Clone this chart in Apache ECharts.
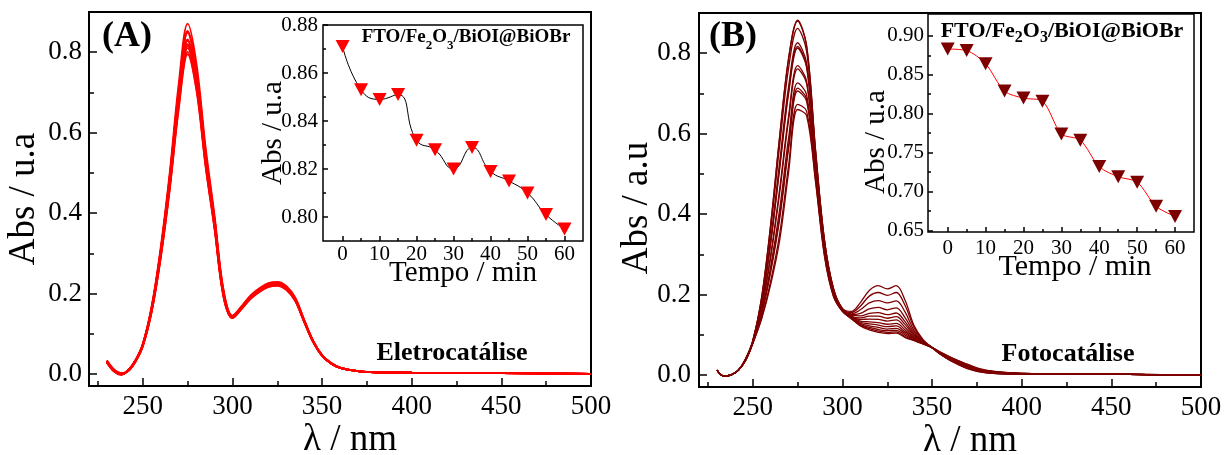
<!DOCTYPE html>
<html>
<head>
<meta charset="utf-8">
<script src="https://cdn.jsdelivr.net/npm/echarts@6.0.0/dist/echarts.min.js"></script>
<style>
html, body { margin: 0; padding: 0; background: #fff; }
#chart { width: 1225px; height: 455px; }
</style>
</head>
<body>
<div id="chart"></div>
<script>
// comprimentos de onda (nm) usados para todas as curvas
const wavelengths = [230, 234, 238, 242, 246, 250, 255, 260, 265, 270, 275, 280, 285, 290, 295, 300, 305, 310, 315, 320, 325, 330, 335, 340, 345, 350, 355, 360, 370, 380, 400, 450, 500];
const timesMin = [0, 5, 10, 15, 20, 25, 30, 35, 40, 45, 50, 55, 60];

// (A) Eletrocatálise - uma curva por tempo
const spectraA = [
    [0.028, 0.006, -0.002, 0.010, 0.035, 0.075, 0.170, 0.315, 0.500, 0.720, 0.871, 0.770, 0.565, 0.395, 0.210, 0.145, 0.168, 0.195, 0.213, 0.226, 0.229, 0.219, 0.190, 0.135, 0.083, 0.047, 0.027, 0.016, 0.007, 0.004, 0.003, 0.002, 0.000],
    [0.028, 0.006, -0.002, 0.010, 0.035, 0.074, 0.167, 0.308, 0.490, 0.705, 0.853, 0.754, 0.553, 0.387, 0.206, 0.144, 0.166, 0.193, 0.211, 0.224, 0.227, 0.217, 0.188, 0.134, 0.082, 0.047, 0.027, 0.016, 0.007, 0.004, 0.003, 0.002, 0.000],
    [0.029, 0.007, -0.001, 0.010, 0.034, 0.073, 0.166, 0.307, 0.488, 0.702, 0.849, 0.751, 0.551, 0.385, 0.205, 0.143, 0.166, 0.192, 0.210, 0.223, 0.226, 0.216, 0.188, 0.133, 0.082, 0.046, 0.027, 0.016, 0.007, 0.004, 0.003, 0.002, 0.000],
    [0.029, 0.007, -0.001, 0.010, 0.034, 0.073, 0.166, 0.308, 0.489, 0.703, 0.851, 0.752, 0.552, 0.386, 0.205, 0.143, 0.166, 0.193, 0.210, 0.223, 0.226, 0.216, 0.188, 0.133, 0.082, 0.046, 0.027, 0.016, 0.007, 0.004, 0.003, 0.002, 0.000],
    [0.030, 0.007, -0.001, 0.009, 0.034, 0.072, 0.162, 0.301, 0.478, 0.688, 0.832, 0.735, 0.540, 0.377, 0.201, 0.142, 0.164, 0.191, 0.208, 0.221, 0.224, 0.214, 0.186, 0.132, 0.081, 0.046, 0.027, 0.016, 0.007, 0.004, 0.003, 0.002, 0.000],
    [0.030, 0.008, 0.000, 0.009, 0.033, 0.071, 0.162, 0.300, 0.476, 0.685, 0.828, 0.732, 0.537, 0.376, 0.200, 0.141, 0.164, 0.190, 0.208, 0.220, 0.223, 0.214, 0.185, 0.132, 0.081, 0.046, 0.026, 0.015, 0.007, 0.004, 0.003, 0.002, 0.000],
    [0.031, 0.008, 0.000, 0.009, 0.033, 0.071, 0.160, 0.296, 0.471, 0.678, 0.820, 0.725, 0.532, 0.372, 0.198, 0.141, 0.163, 0.189, 0.207, 0.219, 0.222, 0.213, 0.184, 0.131, 0.081, 0.046, 0.026, 0.015, 0.007, 0.004, 0.003, 0.002, 0.000],
    [0.031, 0.008, 0.000, 0.009, 0.033, 0.071, 0.162, 0.300, 0.476, 0.685, 0.829, 0.733, 0.538, 0.376, 0.200, 0.142, 0.164, 0.190, 0.208, 0.221, 0.224, 0.214, 0.185, 0.132, 0.081, 0.046, 0.026, 0.015, 0.007, 0.004, 0.003, 0.002, 0.000],
    [0.032, 0.009, 0.001, 0.009, 0.033, 0.070, 0.160, 0.296, 0.470, 0.677, 0.819, 0.724, 0.531, 0.371, 0.197, 0.141, 0.163, 0.189, 0.207, 0.219, 0.222, 0.212, 0.184, 0.131, 0.081, 0.046, 0.026, 0.015, 0.007, 0.004, 0.003, 0.002, 0.000],
    [0.032, 0.009, 0.001, 0.008, 0.032, 0.070, 0.159, 0.295, 0.468, 0.674, 0.815, 0.721, 0.529, 0.370, 0.197, 0.140, 0.163, 0.189, 0.206, 0.219, 0.222, 0.212, 0.184, 0.131, 0.080, 0.045, 0.026, 0.015, 0.007, 0.004, 0.003, 0.002, 0.000],
    [0.033, 0.010, 0.001, 0.008, 0.032, 0.070, 0.158, 0.293, 0.465, 0.670, 0.810, 0.716, 0.525, 0.367, 0.195, 0.140, 0.162, 0.188, 0.206, 0.218, 0.221, 0.211, 0.183, 0.130, 0.080, 0.045, 0.026, 0.015, 0.007, 0.004, 0.003, 0.002, 0.000],
    [0.033, 0.010, 0.002, 0.008, 0.031, 0.069, 0.156, 0.290, 0.460, 0.662, 0.801, 0.708, 0.520, 0.363, 0.193, 0.139, 0.161, 0.187, 0.204, 0.217, 0.220, 0.210, 0.182, 0.130, 0.080, 0.045, 0.026, 0.015, 0.007, 0.004, 0.003, 0.002, 0.000],
    [0.034, 0.011, 0.002, 0.008, 0.031, 0.068, 0.155, 0.288, 0.457, 0.657, 0.795, 0.703, 0.516, 0.361, 0.192, 0.139, 0.161, 0.186, 0.204, 0.216, 0.219, 0.209, 0.182, 0.129, 0.079, 0.045, 0.026, 0.015, 0.007, 0.004, 0.003, 0.002, 0.000]
];

// (B) Fotocatálise
const spectraB = [
    [0.012, -0.003, 0.000, 0.012, 0.040, 0.085, 0.195, 0.375, 0.594, 0.789, 0.882, 0.820, 0.560, 0.335, 0.215, 0.165, 0.158, 0.180, 0.210, 0.222, 0.214, 0.222, 0.185, 0.122, 0.088, 0.068, 0.050, 0.036, 0.015, 0.005, 0.002, 0.002, -0.001],
    [0.012, -0.003, 0.000, 0.012, 0.040, 0.085, 0.195, 0.374, 0.592, 0.786, 0.880, 0.818, 0.559, 0.335, 0.215, 0.165, 0.155, 0.171, 0.196, 0.205, 0.198, 0.205, 0.172, 0.117, 0.086, 0.068, 0.050, 0.037, 0.016, 0.006, 0.002, 0.002, -0.001],
    [0.012, -0.003, 0.000, 0.012, 0.039, 0.084, 0.190, 0.362, 0.571, 0.764, 0.862, 0.805, 0.553, 0.332, 0.213, 0.164, 0.152, 0.162, 0.179, 0.185, 0.179, 0.184, 0.156, 0.110, 0.085, 0.068, 0.051, 0.037, 0.017, 0.006, 0.002, 0.002, -0.001],
    [0.012, -0.003, 0.000, 0.012, 0.039, 0.083, 0.181, 0.337, 0.529, 0.718, 0.826, 0.776, 0.540, 0.325, 0.210, 0.163, 0.150, 0.153, 0.164, 0.168, 0.162, 0.167, 0.142, 0.105, 0.083, 0.068, 0.051, 0.038, 0.018, 0.007, 0.003, 0.002, -0.001],
    [0.012, -0.003, 0.000, 0.012, 0.038, 0.083, 0.179, 0.331, 0.518, 0.706, 0.817, 0.769, 0.537, 0.323, 0.209, 0.163, 0.148, 0.147, 0.153, 0.155, 0.150, 0.154, 0.132, 0.101, 0.082, 0.068, 0.052, 0.039, 0.019, 0.007, 0.003, 0.002, -0.001],
    [0.012, -0.003, 0.000, 0.012, 0.038, 0.083, 0.178, 0.328, 0.513, 0.700, 0.813, 0.765, 0.535, 0.323, 0.209, 0.163, 0.146, 0.142, 0.146, 0.146, 0.141, 0.145, 0.125, 0.098, 0.081, 0.068, 0.052, 0.040, 0.020, 0.008, 0.003, 0.002, -0.001],
    [0.012, -0.003, 0.000, 0.012, 0.038, 0.081, 0.167, 0.299, 0.463, 0.645, 0.769, 0.731, 0.519, 0.315, 0.205, 0.161, 0.145, 0.138, 0.139, 0.138, 0.134, 0.137, 0.118, 0.095, 0.080, 0.068, 0.053, 0.040, 0.020, 0.008, 0.003, 0.002, -0.001],
    [0.012, -0.003, 0.000, 0.012, 0.037, 0.081, 0.165, 0.293, 0.453, 0.635, 0.761, 0.725, 0.517, 0.313, 0.204, 0.161, 0.144, 0.134, 0.132, 0.130, 0.126, 0.128, 0.112, 0.093, 0.079, 0.068, 0.053, 0.041, 0.021, 0.009, 0.003, 0.002, -0.001],
    [0.012, -0.003, 0.000, 0.012, 0.037, 0.080, 0.156, 0.270, 0.412, 0.590, 0.726, 0.697, 0.504, 0.307, 0.201, 0.160, 0.143, 0.131, 0.127, 0.124, 0.120, 0.122, 0.107, 0.091, 0.079, 0.068, 0.054, 0.042, 0.022, 0.009, 0.003, 0.002, -0.001],
    [0.012, -0.003, 0.000, 0.012, 0.037, 0.080, 0.153, 0.261, 0.396, 0.572, 0.713, 0.687, 0.499, 0.305, 0.200, 0.160, 0.142, 0.128, 0.122, 0.118, 0.114, 0.116, 0.103, 0.089, 0.078, 0.068, 0.054, 0.043, 0.023, 0.010, 0.004, 0.002, -0.001],
    [0.012, -0.003, 0.000, 0.012, 0.036, 0.079, 0.151, 0.256, 0.388, 0.563, 0.706, 0.681, 0.496, 0.303, 0.199, 0.159, 0.141, 0.125, 0.118, 0.113, 0.110, 0.111, 0.099, 0.087, 0.078, 0.068, 0.055, 0.043, 0.024, 0.010, 0.004, 0.002, -0.001],
    [0.012, -0.003, 0.000, 0.012, 0.036, 0.078, 0.143, 0.234, 0.351, 0.522, 0.673, 0.656, 0.485, 0.297, 0.196, 0.158, 0.140, 0.124, 0.115, 0.109, 0.106, 0.107, 0.095, 0.086, 0.077, 0.068, 0.055, 0.044, 0.025, 0.011, 0.004, 0.002, -0.001],
    [0.012, -0.003, 0.000, 0.012, 0.036, 0.078, 0.140, 0.225, 0.335, 0.505, 0.660, 0.645, 0.480, 0.295, 0.195, 0.158, 0.140, 0.122, 0.112, 0.106, 0.103, 0.104, 0.093, 0.085, 0.077, 0.068, 0.056, 0.045, 0.026, 0.012, 0.004, 0.002, -0.001]
];

// absorbância no máximo (~275 nm) vs tempo - insets
const peakA = [0.871, 0.853, 0.849, 0.851, 0.832, 0.828, 0.820, 0.829, 0.819, 0.815, 0.810, 0.801, 0.795];
const peakB = [0.883, 0.881, 0.864, 0.829, 0.820, 0.816, 0.774, 0.766, 0.732, 0.719, 0.712, 0.681, 0.668];

// ticks
const xTicksMain = [250, 300, 350, 400, 450, 500];
const xMinorMain = [225, 275, 325, 375, 425, 475];
const yTicksMain = [0, 0.2, 0.4, 0.6, 0.8];
const yMinorMain = [0.1, 0.3, 0.5, 0.7];
const xTicksInset = [0, 10, 20, 30, 40, 50, 60];
const xMinorInset = [5, 15, 25, 35, 45, 55];
const yTicksInsetA = [0.80, 0.82, 0.84, 0.86, 0.88];
const yMinorInsetA = [0.81, 0.83, 0.85, 0.87];
const yTicksInsetB = [0.65, 0.70, 0.75, 0.80, 0.85, 0.90];
const yMinorInsetB = [0.675, 0.725, 0.775, 0.825, 0.875];

const serif = 'Liberation Serif';

// eixo principal + eixo só com ticks menores no mesmo grid
function axisPair(grid, pos, min, max, major, minor, c) {
    return [
        {
            type: 'value', gridIndex: grid, position: pos, min: min, max: max,
            name: c.name, nameLocation: 'middle', nameGap: c.nameGap, nameMoveOverlap: false,
            nameTextStyle: { fontFamily: serif, fontSize: c.nameSize, color: '#000', padding: c.namePad || 0 },
            axisLine: { show: false, onZero: false },
            axisTick: { show: true, inside: true, length: c.tick, customValues: major, lineStyle: { color: '#000', width: 1.5 } },
            axisLabel: {
                show: true, customValues: major, margin: c.margin, color: '#000',
                fontFamily: serif, fontSize: c.labelSize,
                formatter: v => v.toFixed(c.dec)
            },
            splitLine: { show: false }
        },
        {
            type: 'value', gridIndex: grid, position: pos, min: min, max: max,
            axisLine: { show: false, onZero: false },
            axisTick: { show: true, inside: true, length: c.minorTick, customValues: minor, lineStyle: { color: '#000', width: 1.5 } },
            axisLabel: { show: false },
            splitLine: { show: false }
        }
    ];
}

const xAxes = [].concat(
    axisPair(0, 'bottom', 220, 500, xTicksMain, xMinorMain, { name: 'λ / nm', nameGap: 36, nameSize: 37, namePad: [0, 0, 0, 20], tick: 8, minorTick: 5, margin: 7, labelSize: 27, dec: 0 }),
    axisPair(1, 'bottom', -5.3, 65, xTicksInset, xMinorInset, { name: 'Tempo / min', nameGap: 18, nameSize: 29, namePad: [0, 0, 0, 20], tick: 5, minorTick: 3, margin: 3, labelSize: 21, dec: 0 }),
    axisPair(2, 'bottom', 220, 500, xTicksMain, xMinorMain, { name: 'λ / nm', nameGap: 36, nameSize: 37, namePad: [0, 0, 0, 40], tick: 8, minorTick: 5, margin: 7, labelSize: 27, dec: 0 }),
    axisPair(3, 'bottom', -5.2, 65, xTicksInset, xMinorInset, { name: 'Tempo / min', nameGap: 20, nameSize: 30, namePad: [0, 0, 0, 28], tick: 5, minorTick: 3, margin: 6, labelSize: 21, dec: 0 })
);
const yAxes = [].concat(
    axisPair(0, 'left', -0.03, 0.9, yTicksMain, yMinorMain, { name: 'Abs / u.a', nameGap: 46, nameSize: 37, tick: 8, minorTick: 5, margin: 7, labelSize: 27, dec: 1 }),
    axisPair(1, 'left', 0.79, 0.88, yTicksInsetA, yMinorInsetA, { name: 'Abs / u.a', nameGap: 35, nameSize: 29, tick: 5, minorTick: 3, margin: 5, labelSize: 21, dec: 2 }),
    axisPair(2, 'left', -0.03, 0.9, yTicksMain, yMinorMain, { name: 'Abs / a.u', nameGap: 43, nameSize: 37, namePad: [0, 16, 0, 0], tick: 8, minorTick: 5, margin: 8, labelSize: 27, dec: 1 }),
    axisPair(3, 'left', 0.648, 0.928, yTicksInsetB, yMinorInsetB, { name: 'Abs / u.a', nameGap: 37, nameSize: 29, namePad: [0, 38, 0, 0], tick: 5, minorTick: 3, margin: 4, labelSize: 21, dec: 2 })
);

function spectraSeries(spectra, color, width, axisIndex) {
    return spectra.map((vals, k) => ({
        name: timesMin[k] + ' min',
        type: 'line',
        xAxisIndex: axisIndex, yAxisIndex: axisIndex,
        data: wavelengths.map((w, j) => [w, vals[j]]),
        showSymbol: false, smooth: 0.35, silent: true,
        lineStyle: { color: color, width: width }
    }));
}

const series = [].concat(
    spectraSeries(spectraA, '#ff0000', 1.8, 0),
    spectraSeries(spectraB, '#7d0000', 1.3, 4),
    [
        {
            type: 'line', xAxisIndex: 2, yAxisIndex: 2,
            data: timesMin.map((t, i) => [t, peakA[i]]),
            smooth: true, symbol: 'triangle', symbolRotate: 180, symbolSize: [14, 13],
            lineStyle: { color: '#000', width: 1 },
            itemStyle: { color: '#ff0000' }
        },
        {
            type: 'line', xAxisIndex: 6, yAxisIndex: 6,
            data: timesMin.map((t, i) => [t, peakB[i]]),
            smooth: 0.3, symbol: 'triangle', symbolRotate: 180, symbolSize: [14, 13],
            lineStyle: { color: '#ff0000', width: 1 },
            itemStyle: { color: '#7d0000' }
        }
    ]
);

function label(text, x, y, font) {
    return {
        type: 'text', x: x, y: y, z: 10,
        style: { text: text, font: font, fill: '#000', align: 'center', verticalAlign: 'middle', textAlign: 'center', textVerticalAlign: 'middle' }
    };
}

// FTO/Fe2O3/BiOI@BiOBr com índices rebaixados (pedaços medidos no canvas)
const measureCtx = document.createElement('canvas').getContext('2d');
function formula(cx, cy, size, subSize, subShift) {
    const parts = [['FTO/Fe', false], ['2', true], ['O', false], ['3', true], ['/BiOI@BiOBr', false]];
    const fonts = parts.map(p => 'bold ' + (p[1] ? subSize : size) + 'px "Liberation Serif"');
    const widths = parts.map((p, i) => {
        measureCtx.font = fonts[i];
        return measureCtx.measureText(p[0]).width;
    });
    let x = cx - widths.reduce((a, b) => a + b, 0) / 2;
    return parts.map((p, i) => {
        const el = {
            type: 'text', x: x, y: cy + (p[1] ? subShift : 0), z: 10,
            style: { text: p[0], font: fonts[i], fill: '#000', align: 'left', verticalAlign: 'middle', textAlign: 'left', textVerticalAlign: 'middle' }
        };
        x += widths[i];
        return el;
    });
}

const myChart = echarts.init(document.getElementById('chart'));
myChart.setOption({
    animation: false,
    backgroundColor: '#fff',
    grid: [
        { left: 89, top: 12, width: 502, height: 374, show: true, borderColor: '#000', borderWidth: 2, backgroundColor: 'transparent', outerBoundsMode: 'none' },
        { left: 323, top: 25, width: 260, height: 216, show: true, borderColor: '#000', borderWidth: 1.5, backgroundColor: '#fff', outerBoundsMode: 'none' },
        { left: 699, top: 13, width: 502, height: 374, show: true, borderColor: '#000', borderWidth: 2, backgroundColor: 'transparent', outerBoundsMode: 'none' },
        { left: 928, top: 14, width: 266, height: 218, show: true, borderColor: '#000', borderWidth: 1.5, backgroundColor: '#fff', outerBoundsMode: 'none' }
    ],
    xAxis: xAxes,
    yAxis: yAxes,
    series: series,
    graphic: [
        label('(A)', 127, 37, 'bold 36px "Liberation Serif"'),
        label('(B)', 733, 37, 'bold 36px "Liberation Serif"'),
        label('Eletrocatálise', 452, 353, 'bold 26px "Liberation Serif"'),
        label('Fotocatálise', 1068, 354, 'bold 26px "Liberation Serif"')
    ].concat(formula(466, 37.5, 19, 13, 8), formula(1062, 31, 22, 16, 6.5))
});
</script>
</body>
</html>
